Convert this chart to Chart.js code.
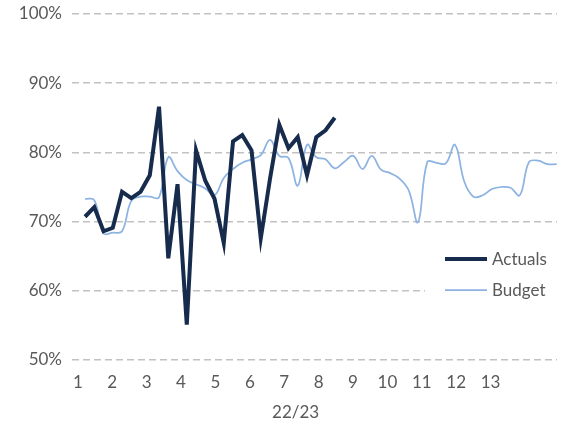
<!DOCTYPE html>
<html>
<head>
<meta charset="utf-8">
<script src="https://cdn.jsdelivr.net/npm/chart.js@4/dist/chart.umd.min.js"></script>
<style>
  html, body { margin: 0; padding: 0; background: #ffffff; }
  #wrap { width: 564px; height: 433px; }
</style>
</head>
<body>
<div id="wrap"><canvas id="chart" width="564" height="433"></canvas></div>
<script>
// Weekly occupancy, financial year 22/23
const weeks = Array.from({ length: 52 }, (_, i) => i + 1);
const periods = [1, 2, 3, 4, 5, 6, 7, 8, 9, 10, 11, 12, 13];
const yearLabel = '22/23';
const yTicks = [50, 60, 70, 80, 90, 100];

const actuals = [
  70.7, 72.1, 68.6, 69.1, 74.3, 73.4, 74.3, 76.7, 86.6, 64.7,
  75.4, 55.1, 80.3, 75.9, 73.3, 66.9, 81.6, 82.5, 80.3, 67.6,
  76.2, 84.0, 80.6, 82.2, 76.7, 82.2, 83.2, 85.0
];

const budget = [
  73.3, 73.1, 68.3, 68.4, 68.6, 73.0, 73.6, 73.6, 73.5, 79.3,
  77.3, 76.0, 75.4, 74.8, 73.8, 76.3, 77.6, 78.5, 79.0, 79.6,
  81.8, 79.5, 79.2, 75.2, 81.1, 79.3, 79.0, 77.7, 78.6, 79.5,
  77.6, 79.5, 77.5, 77.0, 76.2, 74.5, 69.9, 78.6, 78.5, 78.4,
  81.1, 75.8, 73.6, 73.8, 74.7, 75.0, 74.9, 73.8, 78.6, 78.8,
  78.3, 78.3
];

const TEXT = '#595959';
const FONT = { family: 'Lato, "Liberation Sans", sans-serif', size: 17 };

// Draws the axis title under the period labels
const yearTitle = {
  id: 'yearTitle',
  afterDraw(chart) {
    const s = chart.scales.p;
    const ctx = chart.ctx;
    ctx.save();
    ctx.fillStyle = TEXT;
    ctx.font = `${FONT.size}px ${FONT.family}`;
    ctx.textAlign = 'center';
    ctx.textBaseline = 'middle';
    ctx.fillText(yearLabel, s.getPixelForValue(7.33), 413);
    ctx.restore();
  }
};

// Legend drawn inside the plot, lower right, on a white box
const insideLegend = {
  id: 'insideLegend',
  afterDatasetsDraw(chart) {
    const ctx = chart.ctx;
    const x0 = 445, x1 = 487, tx = 492;
    const rows = [259, 290];
    ctx.save();
    ctx.fillStyle = '#ffffff';
    ctx.fillRect(425, 242, chart.chartArea.right - 425, 64);
    ctx.font = `${FONT.size}px ${FONT.family}`;
    ctx.textBaseline = 'middle';
    ctx.textAlign = 'left';
    chart.data.datasets.forEach((ds, i) => {
      const y = rows[i];
      ctx.strokeStyle = ds.borderColor;
      ctx.lineWidth = ds.borderWidth;
      ctx.beginPath();
      ctx.moveTo(x0, y);
      ctx.lineTo(x1, y);
      ctx.stroke();
      ctx.fillStyle = TEXT;
      ctx.fillText(ds.label, tx, y + 1);
    });
    ctx.restore();
  }
};

new Chart(document.getElementById('chart'), {
  type: 'line',
  data: {
    labels: weeks,
    datasets: [
      {
        label: 'Actuals',
        data: actuals,
        borderColor: '#172b4d',
        borderWidth: 4,
        pointRadius: 0,
        tension: 0,
        borderJoinStyle: 'miter',
        order: 0
      },
      {
        label: 'Budget',
        data: budget,
        borderColor: '#8db3e2',
        borderWidth: 1.75,
        pointRadius: 0,
        tension: 0.4,
        order: 1
      }
    ]
  },
  options: {
    responsive: false,
    animation: false,
    layout: { padding: { top: 14, right: 7, bottom: 0, left: 0 } },
    plugins: {
      legend: { display: false },
      tooltip: { enabled: false }
    },
    scales: {
      x: {
        type: 'linear',
        display: false,
        min: -0.41,
        max: 52.03
      },
      p: {
        type: 'linear',
        position: 'bottom',
        min: 0.83,
        max: 14.93,
        grid: { display: false, drawTicks: false },
        border: { display: false },
        afterBuildTicks(scale) {
          scale.ticks = periods.map(v => ({ value: v }));
        },
        afterFit(scale) { scale.height = 73; },
        ticks: {
          autoSkip: false,
          maxRotation: 0,
          padding: 12,
          color: TEXT,
          font: FONT,
          callback: v => String(v)
        }
      },
      y: {
        min: 50,
        max: 100,
        afterBuildTicks(scale) {
          scale.ticks = yTicks.map(v => ({ value: v }));
        },
        afterFit(scale) { scale.width = 72; },
        border: { display: false, dash: [7, 4] },
        grid: {
          color: '#c2c2c2',
          lineWidth: 1.5,
          drawTicks: false
        },
        ticks: {
          padding: 10,
          color: TEXT,
          font: { family: FONT.family, size: FONT.size, lineHeight: 0.45 },
          callback: v => v + '%'
        }
      }
    }
  },
  plugins: [yearTitle, insideLegend]
});
</script>
</body>
</html>
